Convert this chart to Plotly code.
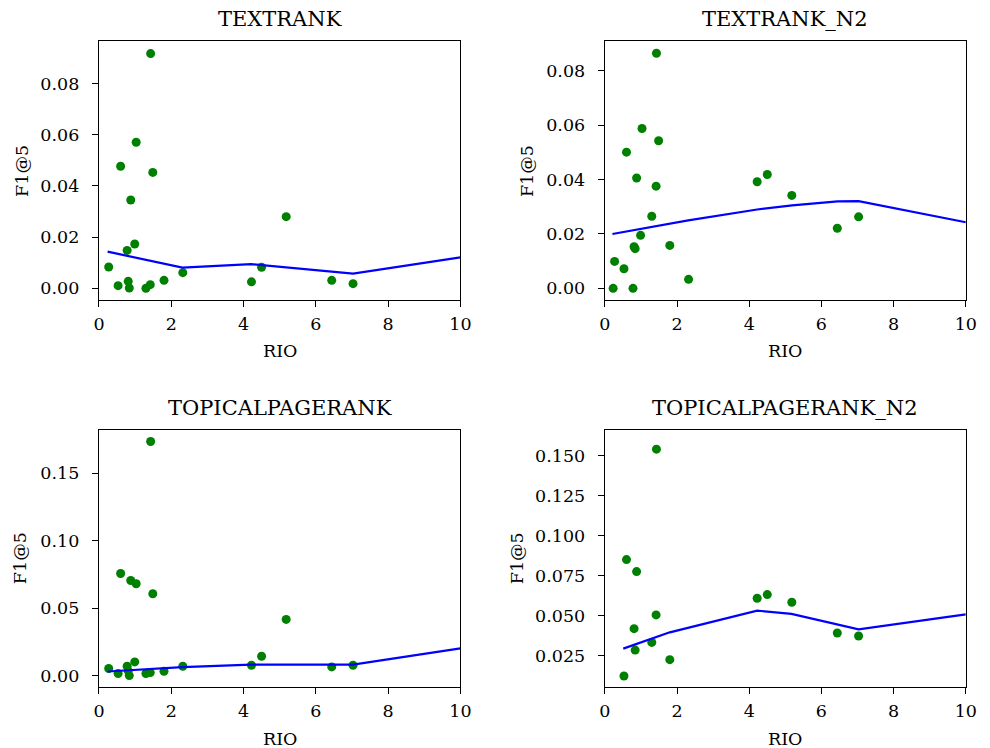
import plotly.graph_objects as go

# ---------------- data ----------------
rio = [0.23, 0.27, 0.53, 0.60, 0.78, 0.81, 0.84, 0.88, 0.99, 1.03, 1.30,
       1.42, 1.43, 1.49, 1.80, 2.32, 4.22, 4.50, 5.18, 6.44, 7.03]

f1_textrank = [None, 0.0083, 0.0010, 0.0477, 0.0148, 0.0027, 0.0001, 0.0345,
               0.0173, 0.0571, 0.0000, 0.0014, 0.0918, 0.0453, 0.0031, 0.0061,
               0.0025, 0.0082, 0.0280, 0.0031, 0.0018]
f1_textrank_n2 = [0.0000, 0.0099, 0.0072, 0.0501, 0.0000, 0.0153, 0.0146, 0.0406,
                  0.0195, 0.0588, 0.0265, 0.0376, 0.0865, 0.0543, 0.0158, 0.0033,
                  0.0392, 0.0419, 0.0342, 0.0221, 0.0263]
f1_topical = [None, 0.0052, 0.0015, 0.0756, 0.0069, 0.0035, 0.0000, 0.0704,
              0.0101, 0.0680, 0.0015, 0.0022, 0.1734, 0.0606, 0.0032, 0.0069,
              0.0076, 0.0143, 0.0416, 0.0064, 0.0076]
f1_topical_n2 = [None, None, 0.0123, 0.0851, None, 0.0419, 0.0285, 0.0776,
                 None, None, 0.0333, 0.0505, 0.1542, None, 0.0225, None,
                 0.0609, 0.0632, 0.0584, 0.0392, 0.0373]

trend_x_textrank = [0.24, 2.31, 4.21, 7.03, 10.0]
trend_y_textrank = [0.0143, 0.0081, 0.0094, 0.0057, 0.0121]
trend_x_textrank_n2 = [0.21, 2.31, 4.22, 5.19, 6.45, 7.03, 10.0]
trend_y_textrank_n2 = [0.0200, 0.0250, 0.0290, 0.0305, 0.0320, 0.0321, 0.0243]
trend_x_topical = [0.24, 2.31, 4.21, 7.03, 10.0]
trend_y_topical = [0.0030, 0.0062, 0.0081, 0.0081, 0.0202]
trend_x_topical_n2 = [0.51, 1.80, 4.22, 5.17, 7.03, 10.0]
trend_y_topical_n2 = [0.0294, 0.0396, 0.0532, 0.0511, 0.0415, 0.0508]

titles = ["TEXTRANK", "TEXTRANK_N2", "TOPICALPAGERANK", "TOPICALPAGERANK_N2"]
x_ticks = [0, 2, 4, 6, 8, 10]
y_ticks_1 = [0.00, 0.02, 0.04, 0.06, 0.08]
y_ticks_2 = [0.00, 0.02, 0.04, 0.06, 0.08]
y_ticks_3 = [0.00, 0.05, 0.10, 0.15]
y_ticks_4 = [0.025, 0.050, 0.075, 0.100, 0.125, 0.150]
y_ranges = [[-0.0046, 0.0966], [-0.0043, 0.0909], [-0.0087, 0.1823], [0.0052, 0.1665]]
y_formats = [".2f", ".2f", ".2f", ".3f"]

# ---------------- layout ----------------
W, H = 990, 748


def px_x(p):
    # horizontal pixel -> paper fraction (compensates observed horizontal mapping)
    return ((p - 3.75) / 0.984) / W


col_px = [[96.8, 458.7], [603.3, 964.7]]
col_dom = [[px_x(a), px_x(b)] for a, b in col_px]
row_dom = [[1 - 300.0 / H, 1 - 41.3 / H], [1 - 687.3 / H, 1 - 429.5 / H]]
ylabel_px = [19.0, 524.8, 18.5, 516.2]

FONT = "DejaVu Serif"
fig = go.Figure()

panels = [
    (f1_textrank, trend_x_textrank, trend_y_textrank, y_ticks_1),
    (f1_textrank_n2, trend_x_textrank_n2, trend_y_textrank_n2, y_ticks_2),
    (f1_topical, trend_x_topical, trend_y_topical, y_ticks_3),
    (f1_topical_n2, trend_x_topical_n2, trend_y_topical_n2, y_ticks_4),
]

annotations = []
for i, (f1, tx, ty, yt) in enumerate(panels):
    r, c = divmod(i, 2)
    n = "" if i == 0 else str(i + 1)
    xa, ya = "x" + n, "y" + n
    xs = [x for x, y in zip(rio, f1) if y is not None]
    ys = [y for y in f1 if y is not None]
    fig.add_trace(go.Scatter(x=xs, y=ys, mode="markers", xaxis=xa, yaxis=ya,
                             marker=dict(color="#008000", size=9, line=dict(width=0)),
                             showlegend=False, hoverinfo="skip"))
    fig.add_trace(go.Scatter(x=tx, y=ty, mode="lines", xaxis=xa, yaxis=ya,
                             line=dict(color="#0000ff", width=2.2),
                             showlegend=False, hoverinfo="skip"))
    axcommon = dict(showline=True, linecolor="black", linewidth=1.3, mirror=True,
                    ticks="outside", ticklen=6, tickwidth=1.3, tickcolor="black",
                    showgrid=False, zeroline=False,
                    tickfont=dict(family=FONT, size=17.5, color="black"))
    fig.update_layout(**{
        ("xaxis" + n): dict(domain=col_dom[c], range=[0, 10], tickvals=x_ticks,
                            ticktext=[str(v) for v in x_ticks], anchor=ya,
                            ticklabelstandoff=2, **axcommon),
        ("yaxis" + n): dict(domain=row_dom[r], range=y_ranges[i], tickvals=yt,
                            tickformat=y_formats[i], anchor=xa,
                            ticklabelstandoff=9, **axcommon),
    })
    xc = (col_dom[c][0] + col_dom[c][1]) / 2
    # title
    annotations.append(dict(text=titles[i], x=xc, y=row_dom[r][1], xref="paper", yref="paper",
                            yshift=22, xanchor="center", yanchor="middle", showarrow=False,
                            borderpad=0, font=dict(family=FONT, size=21, color="black")))
    # x label
    annotations.append(dict(text="RIO", x=xc, y=row_dom[r][0], xref="paper", yref="paper",
                            yshift=-51.4, xanchor="center", yanchor="middle", showarrow=False,
                            borderpad=0, font=dict(family=FONT, size=17.5, color="black")))
    # y label
    yc = (row_dom[r][0] + row_dom[r][1]) / 2
    annotations.append(dict(text="F1@5", x=px_x(ylabel_px[i]), y=yc, xref="paper", yref="paper",
                            xanchor="center", yanchor="middle", textangle=-90, showarrow=False,
                            borderpad=0, font=dict(family=FONT, size=17.5, color="black")))

fig.update_layout(width=W, height=H, margin=dict(l=0, r=0, t=0, b=0),
                  paper_bgcolor="white", plot_bgcolor="white",
                  annotations=annotations)

fig.write_html("out.html")
